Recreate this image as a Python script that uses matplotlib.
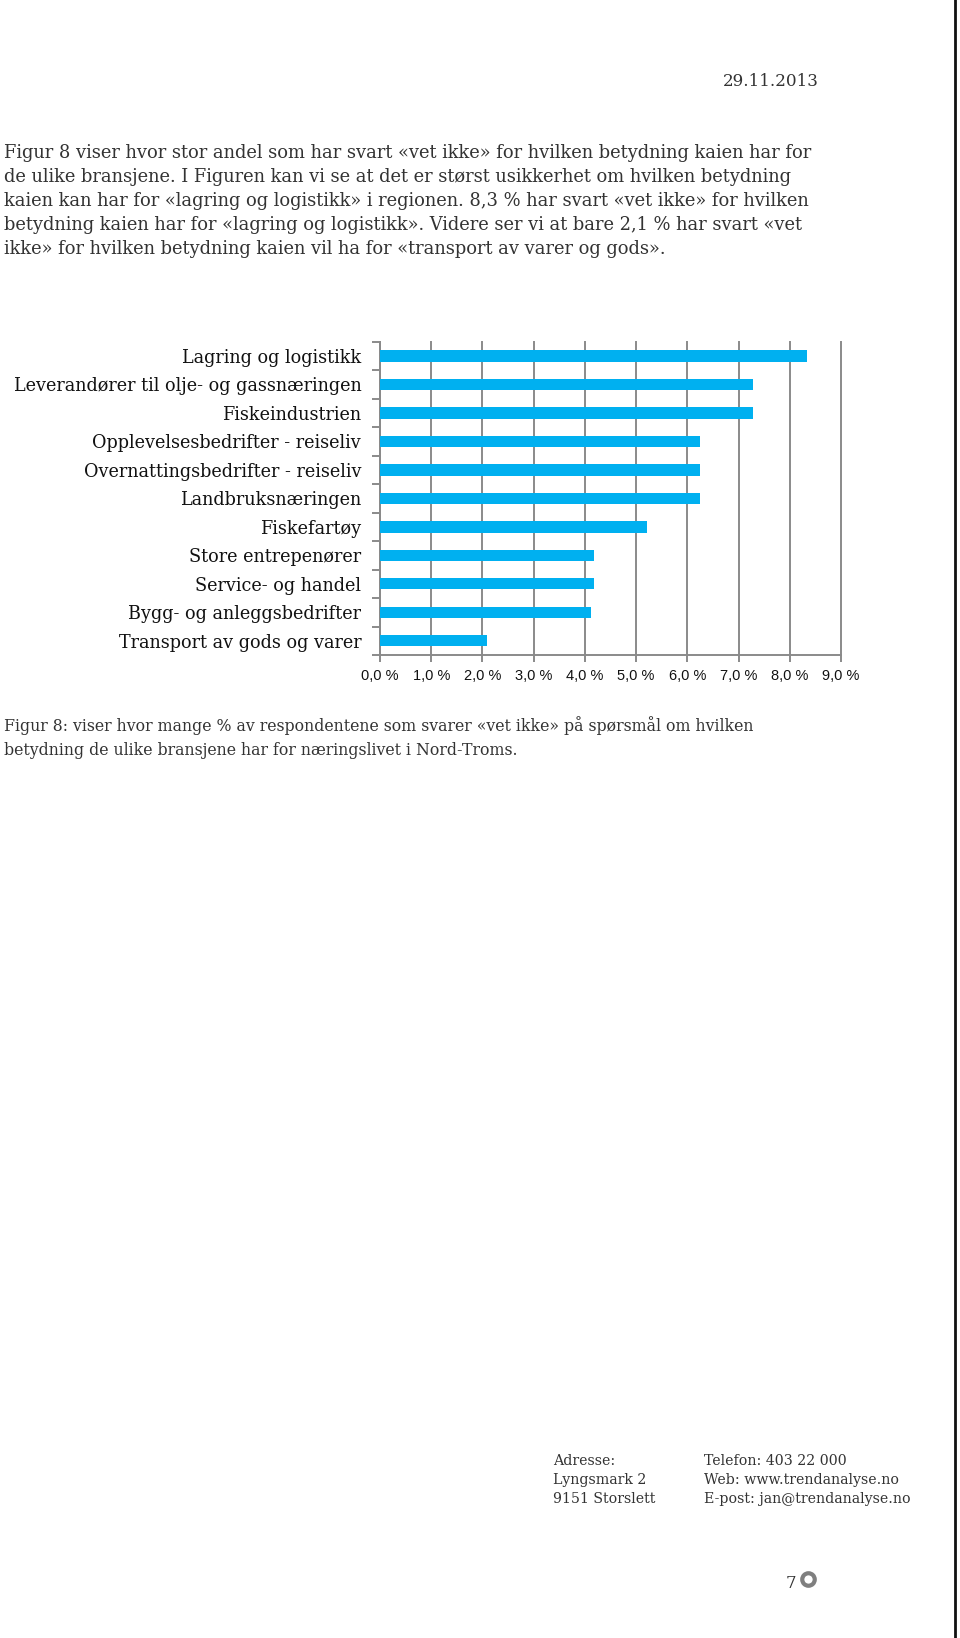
import matplotlib
matplotlib.use("Agg")
import matplotlib.pyplot as plt
from matplotlib.lines import Line2D
from matplotlib.ticker import FuncFormatter, MultipleLocator, FixedLocator

W, H = 960, 1638

categories = [
    "Lagring og logistikk",
    "Leverandører til olje- og gassnæringen",
    "Fiskeindustrien",
    "Opplevelsesbedrifter - reiseliv",
    "Overnattingsbedrifter - reiseliv",
    "Landbruksnæringen",
    "Fiskefartøy",
    "Store entrepenører",
    "Service- og handel",
    "Bygg- og anleggsbedrifter",
    "Transport av gods og varer",
]
values = [8.33, 7.29, 7.29, 6.25, 6.25, 6.25, 5.21, 4.17, 4.17, 4.11, 2.08]

date_text = "29.11.2013"
paragraph = [
    "Figur 8 viser hvor stor andel som har svart «vet ikke» for hvilken betydning kaien har for",
    "de ulike bransjene. I Figuren kan vi se at det er størst usikkerhet om hvilken betydning",
    "kaien kan har for «lagring og logistikk» i regionen. 8,3 % har svart «vet ikke» for hvilken",
    "betydning kaien har for «lagring og logistikk». Videre ser vi at bare 2,1 % har svart «vet",
    "ikke» for hvilken betydning kaien vil ha for «transport av varer og gods».",
]
caption = [
    "Figur 8: viser hvor mange % av respondentene som svarer «vet ikke» på spørsmål om hvilken",
    "betydning de ulike bransjene har for næringslivet i Nord-Troms.",
]
footer_left = ["Adresse:", "Lyngsmark 2", "9151 Storslett"]
footer_right = ["Telefon: 403 22 000", "Web: www.trendanalyse.no", "E-post: jan@trendanalyse.no"]
page_no = "7"

SERIF = ["DejaVu Serif"]
SANS = ["Liberation Sans", "DejaVu Sans"]

fig = plt.figure(figsize=(W / 100, H / 100), dpi=100)
fig.patch.set_facecolor("white")

def fx(x):
    return x / W

def fy(y):
    return 1 - y / H

# axes
left, right, top, bottom = 380, 841, 341.7, 655
ax = fig.add_axes([fx(left), fy(bottom), (right - left) / W, (bottom - top) / H])
y = list(range(len(categories)))
ax.barh(y, values, height=0.4, color="#00B0F0", zorder=3)
ax.set_xlim(0, 9)
ax.set_ylim(len(categories) - 0.5, -0.5)
ax.xaxis.set_major_locator(MultipleLocator(1))
ax.xaxis.set_major_formatter(FuncFormatter(lambda v, p: f"{v:.1f} %".replace(".", ",")))
ax.grid(axis="x", color="#8a8a8a", linewidth=1.4, zorder=0)
for gl in ax.get_xgridlines():
    gl.set_clip_on(False)
for s in ["top", "right"]:
    ax.spines[s].set_visible(False)
for s in ["left", "bottom"]:
    ax.spines[s].set_color("#8a8a8a")
    ax.spines[s].set_linewidth(1.4)
ax.set_yticks(y)
ax.set_yticklabels(categories, fontfamily=SERIF, fontsize=12.7, color="#111111")
ax.yaxis.set_minor_locator(FixedLocator([i - 0.5 for i in range(len(categories) + 1)]))
ax.tick_params(axis="y", which="major", length=0, pad=13.5)
ax.tick_params(axis="y", which="minor", length=6, width=1.4, color="#8a8a8a", direction="out")
ax.tick_params(axis="x", which="major", length=5, width=1.4, color="#8a8a8a", pad=5,
               labelsize=10.5, labelcolor="#111111")
for lab in ax.get_xticklabels():
    lab.set_fontfamily(SANS)

# page texts
fig.text(fx(819), fy(81), date_text, ha="right", va="center", fontfamily=SERIF,
         fontsize=12.1, color="#333333")
for i, line in enumerate(paragraph):
    fig.text(fx(4), fy(153 + i * 24), line, ha="left", va="center", fontfamily=SERIF,
             fontsize=12.9, color="#333333")
for i, line in enumerate(caption):
    fig.text(fx(4), fy(726 + i * 24.5), line, ha="left", va="center", fontfamily=SERIF,
             fontsize=11.3, color="#333333")
for i, (a, b) in enumerate(zip(footer_left, footer_right)):
    fig.text(fx(553), fy(1461 + i * 19), a, ha="left", va="center", fontfamily=SERIF,
             fontsize=10.2, color="#333333")
    fig.text(fx(704), fy(1461 + i * 19), b, ha="left", va="center", fontfamily=SERIF,
             fontsize=10.2, color="#333333")

fig.text(fx(791), fy(1584), page_no, ha="center", va="center", fontfamily=SERIF,
         fontsize=12, color="#333333")
fig.add_artist(Line2D([fx(808)], [fy(1579)], marker="o", markersize=9, mfc="white",
                      mec="#7f7f7f", mew=3, transform=fig.transFigure))

# right page border
fig.add_artist(Line2D([fx(955), fx(955)], [0, 1], color="#111111", linewidth=2,
                      transform=fig.transFigure))

fig.savefig("out.png", dpi=100, facecolor="white")
